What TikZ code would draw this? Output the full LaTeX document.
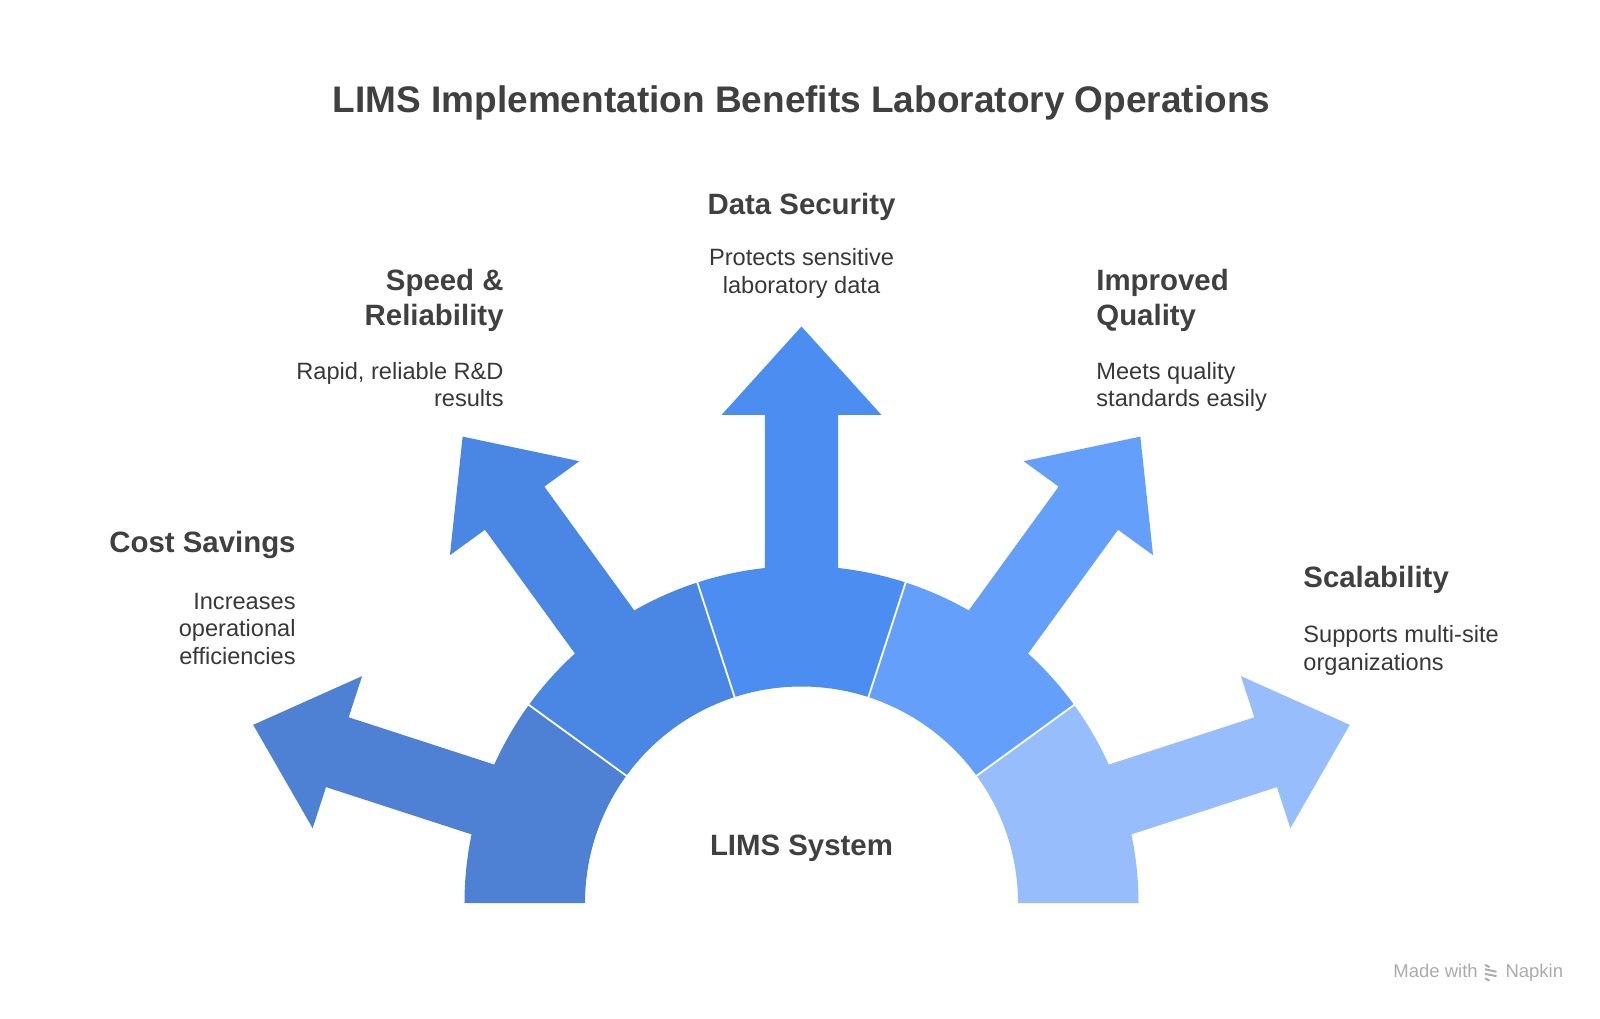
\documentclass[tikz,border=0pt]{standalone}
\usepackage{fontspec}
\setmainfont{Liberation Sans}
\usepackage{tikz}
\usepackage{xcolor}
\usetikzlibrary{positioning}

\definecolor{segA}{HTML}{4E80D4}
\definecolor{segB}{HTML}{4A87E4}
\definecolor{segC}{HTML}{4C8DF2}
\definecolor{segD}{HTML}{64A0FB}
\definecolor{segE}{HTML}{97BDFC}
\definecolor{labelgray}{HTML}{404040}
\definecolor{descgray}{HTML}{383838}
\definecolor{creditgray}{HTML}{ABABAB}

\tikzset{
  headline/.style={font=\fontsize{18.5}{22}\selectfont\bfseries, text=labelgray, inner sep=0pt},
  benefit/.style={font=\fontsize{14.7}{17.9}\selectfont\bfseries, text=labelgray, inner sep=0pt},
  note/.style={font=\fontsize{11.8}{13.8}\selectfont, text=descgray, inner sep=0pt},
  credit/.style={font=\fontsize{9.25}{11}\selectfont, text=creditgray, inner sep=0pt},
}

\begin{document}
\begin{tikzpicture}[x=0.5pt, y=0.5pt]
    \useasboundingbox (-801.5,-115) rectangle (798.5,903);

    % ring segments with their arrows
    \foreach \a/\col in {162/segA, 126/segB, 90/segC, 54/segD, 18/segE} {
        \fill[\col] ({\a-18}:216.5) -- ({\a-18}:337) arc[start angle=\a-18, end angle=\a+18, radius=337]
            -- ({\a+18}:216.5) arc[start angle=\a+18, end angle=\a-18, radius=216.5] -- cycle;
        \fill[\col, rotate=\a] (250,-36.7) -- (488,-36.7) -- (488,-80) -- (576.5,0)
            -- (488,80) -- (488,36.7) -- (250,36.7) -- cycle;
    }
    \foreach \b in {36, 72, 108, 144}
        \draw[white, line width=0.9pt] (\b:215) -- (\b:339);

    \node[headline, anchor=base] (title) at (0,790) {LIMS Implementation Benefits Laboratory Operations};

    % multi-line nodes sit on the baseline of their last line
    \node[benefit, anchor=base] (security) at (0,688.7) {Data Security};
    \node[note, align=center, anchor=base] (securitytxt) at (0,609.7) {Protects sensitive\\laboratory data};

    \node[benefit, align=right, anchor=base east] (speed) at (-297.5,577) {Speed \&\\Reliability};
    \node[note, align=right, anchor=base east] (speedtxt) at (-297.5,496) {Rapid, reliable R\&D\\results};

    \node[benefit, align=left, anchor=base west] (quality) at (294.5,577) {Improved\\Quality};
    \node[note, align=left, anchor=base west] (qualitytxt) at (294.5,496) {Meets quality\\standards easily};

    \node[benefit, anchor=base east] (cost) at (-505.5,350.3) {Cost Savings};
    \node[note, align=right, anchor=base east] (costtxt) at (-505.5,238.5) {Increases\\operational\\efficiencies};

    \node[benefit, anchor=base west] (scale) at (501.5,315.7) {Scalability};
    \node[note, align=left, anchor=base west] (scaletxt) at (501.5,233) {Supports multi-site\\organizations};

    \node[benefit, anchor=base] (lims) at (0,48) {LIMS System};

    % footer
    \node[credit, anchor=base west] (made) at (591.5,-74.7) {Made with};
    \node[credit, anchor=base west] (napkin) at ([xshift=13.5pt]made.base east) {Napkin};
    \foreach \y/\e in {-63/688, -67.5/695, -72/695, -76.5/688}
        \draw[creditgray, line width=1pt] (683.5,\y+1.2) -- (\e,\y-1.2);
\end{tikzpicture}
\end{document}
